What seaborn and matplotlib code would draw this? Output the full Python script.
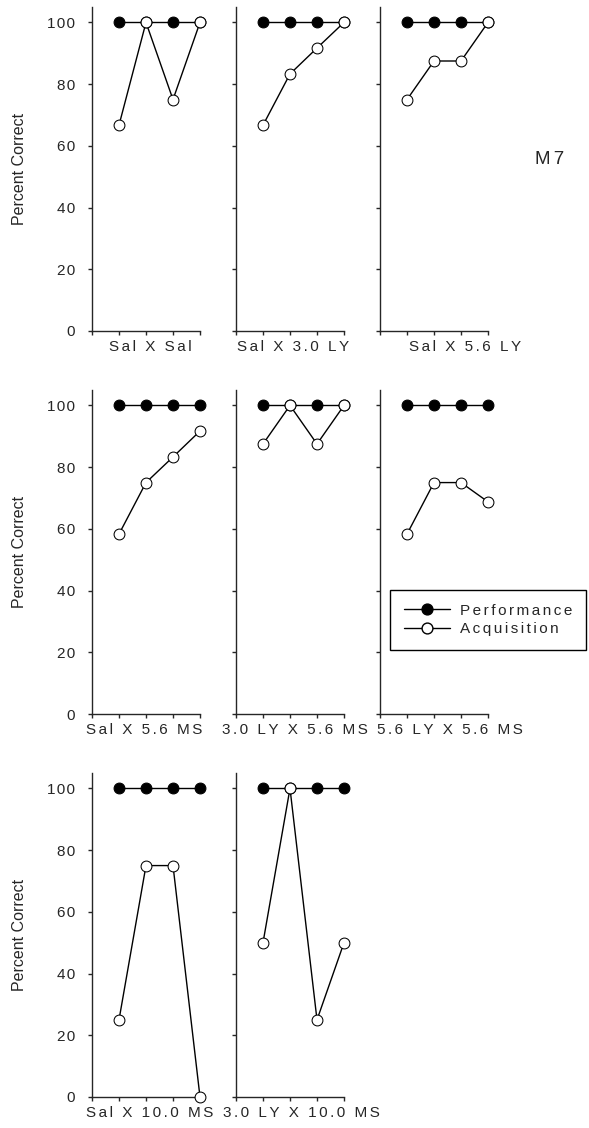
import numpy as np
import pandas as pd
import seaborn as sns
import matplotlib.pyplot as plt

sessions = [1, 2, 3, 4]
conditions = ['Sal X Sal', 'Sal X 3.0 LY', 'Sal X 5.6 LY',
              'Sal X 5.6 MS', '3.0 LY X 5.6 MS', '5.6 LY X 5.6 MS',
              'Sal X 10.0 MS', '3.0 LY X 10.0 MS']
performance = [[100, 100, 100, 100]] * 8
acquisition = [[66.7, 100, 75, 100],
               [66.7, 83.3, 91.7, 100],
               [75, 87.5, 87.5, 100],
               [58.3, 75, 83.3, 91.7],
               [87.5, 100, 87.5, 100],
               [58.3, 75, 75, 68.75],
               [25, 75, 75, 0],
               [50, 100, 25, 50]]
yticks = [0, 20, 40, 60, 80, 100]
# where each condition label sits under its panel (axes fraction)
labelX = [0.537, 0.53, 0.787, 0.48, 0.546, 0.65, 0.53, 0.61]

sns.set_style('ticks')
plt.rcParams['font.family'] = ['Liberation Sans', 'DejaVu Sans']


def spaced(s, n=2):
    # fake the wide letter spacing of the original with hair spaces
    return ('\u200a' * n).join(s)


W, H = 589, 1128
fig = plt.figure(figsize=(W / 100, H / 100), dpi=100)

colLeft = [92, 236, 380]
rowBottom = [331, 714, 1097]
axW, axH = 108, 324
ms = 7.8

for i, cond in enumerate(conditions):
    r, c = divmod(i, 3)
    ax = fig.add_axes([colLeft[c] / W, 1 - rowBottom[r] / H, axW / W, axH / H])
    df = pd.DataFrame({'session': sessions,
                       'Performance': performance[i],
                       'Acquisition': acquisition[i]})
    sns.lineplot(data=df, x='session', y='Performance', ax=ax, color='black',
                 lw=1, marker='o', markersize=ms, markerfacecolor='black',
                 markeredgecolor='black', clip_on=False, zorder=3)
    sns.lineplot(data=df, x='session', y='Acquisition', ax=ax, color='black',
                 lw=1, marker='o', markersize=ms, markerfacecolor='white',
                 markeredgecolor='black', clip_on=False, zorder=4)
    ax.set_xlim(0, 4)
    ax.set_ylim(0, 105)
    ax.set_xticks([0, 1, 2, 3, 4])
    ax.set_xticklabels([])
    ax.set_yticks(yticks)
    ax.tick_params(direction='out', length=3, width=1, labelsize=11, pad=9)
    for sp in ['top', 'right']:
        ax.spines[sp].set_visible(False)
    for sp in ['left', 'bottom']:
        ax.spines[sp].set_linewidth(1)
    ax.set_xlabel(spaced(cond), fontsize=11)
    ax.xaxis.set_label_coords(labelX[i], -0.028)
    ax.xaxis.label.set_va('top')
    if c == 0:
        ax.set_yticklabels([spaced(str(t), 1) for t in yticks])
        ax.set_ylabel('Percent Correct', fontsize=11.5)
        ax.yaxis.set_label_coords(-0.60, 0.5)
    else:
        ax.set_yticklabels([])
        ax.set_ylabel('')

# legend in the right-hand middle panel
handles = [plt.Line2D([], [], color='black', lw=1, marker='o', markersize=ms,
                      markerfacecolor='black', markeredgecolor='black'),
           plt.Line2D([], [], color='black', lw=1, marker='o', markersize=ms,
                      markerfacecolor='white', markeredgecolor='black')]
leg = fig.legend(handles, [spaced('Performance'), spaced('Acquisition')],
                 loc='upper left', bbox_to_anchor=(390 / W, 1 - 590 / H),
                 fontsize=11, handlelength=3.0, handletextpad=0.7,
                 labelspacing=0.3, borderpad=0.9, borderaxespad=0,
                 fancybox=False, frameon=True, edgecolor='black', framealpha=1)
leg.get_frame().set_linewidth(1)

fig.text(535 / W, 1 - 160 / H, spaced('M7'), fontsize=13.5, va='center', ha='left')

fig.savefig('out.png', dpi=100)
